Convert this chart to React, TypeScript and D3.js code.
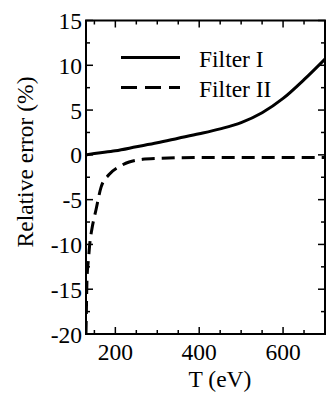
import React from "react";
import * as d3 from "d3";

// Relative error of the two filters versus temperature T (eV)
const filterI_T = [130, 150, 200, 250, 300, 350, 400, 450, 500, 550, 600, 650, 700];
const filterI_err = [0, 0.15, 0.45, 0.9, 1.35, 1.85, 2.35, 2.9, 3.6, 4.7, 6.3, 8.4, 10.7];

const filterII_T = [130, 131, 132.4, 136, 139.5, 144, 154, 166, 185, 210, 233, 265, 300, 400, 500, 600, 700];
const filterII_err = [-20, -17.2, -13.9, -11.6, -9.7, -8.3, -6.1, -3.6, -2.2, -1.3, -0.8, -0.5, -0.4, -0.3, -0.3, -0.3, -0.3];

const xMajorTicks = [200, 400, 600];
const xMinorTicks = [150, 250, 300, 350, 450, 500, 550, 650];
const yMajorTicks = [15, 10, 5, 0, -5, -10, -15, -20];
const yMinorTicks = [12.5, 7.5, 2.5, -2.5, -7.5, -12.5, -17.5];

const legendLabels = ["Filter I", "Filter II"];

const W = 326;
const H = 393;
const plot = { left: 86, right: 325, top: 20.5, bottom: 334 };
const SERIF = '"Liberation Serif", "Times New Roman", Times, Tinos, "DejaVu Serif", "Noto Serif", serif';

export default function App() {
  const x = d3.scaleLinear().domain([130, 700]).range([plot.left, plot.right]);
  const y = d3.scaleLinear().domain([-20, 15]).range([plot.bottom, plot.top]);

  const line = d3
    .line<[number, number]>()
    .x((d) => x(d[0]))
    .y((d) => y(d[1]))
    .curve(d3.curveMonotoneX);

  const s1 = filterI_T.map((t, i) => [t, filterI_err[i]] as [number, number]);
  const s2 = filterII_T.map((t, i) => [t, filterII_err[i]] as [number, number]);

  const major = 7;
  const minor = 4;

  return (
    <svg
      width={W}
      height={H}
      style={{ position: "absolute", left: 0, top: 0, background: "#fff" }}
    >
      <defs>
        <clipPath id="plotClip">
          <rect x={plot.left} y={plot.top} width={plot.right - plot.left} height={plot.bottom - plot.top} />
        </clipPath>
      </defs>

      {/* curves */}
      <g clipPath="url(#plotClip)" fill="none" stroke="#000" strokeWidth={3}>
        <path d={line(s1) ?? ""} />
        <path d={line(s2) ?? ""} strokeDasharray="13,7" />
      </g>

      {/* frame */}
      <rect
        x={plot.left}
        y={plot.top}
        width={plot.right - plot.left}
        height={plot.bottom - plot.top}
        fill="none"
        stroke="#000"
        strokeWidth={2}
      />

      {/* ticks on all four sides, pointing inward */}
      <g stroke="#000" strokeWidth={1.5}>
        {xMajorTicks.map((t) => (
          <g key={"xm" + t}>
            <line x1={x(t)} x2={x(t)} y1={plot.bottom} y2={plot.bottom - major} />
            <line x1={x(t)} x2={x(t)} y1={plot.top} y2={plot.top + major} />
          </g>
        ))}
        {xMinorTicks.map((t) => (
          <g key={"xn" + t}>
            <line x1={x(t)} x2={x(t)} y1={plot.bottom} y2={plot.bottom - minor} />
            <line x1={x(t)} x2={x(t)} y1={plot.top} y2={plot.top + minor} />
          </g>
        ))}
        {yMajorTicks.map((v) => (
          <g key={"ym" + v}>
            <line x1={plot.left} x2={plot.left + major} y1={y(v)} y2={y(v)} />
            <line x1={plot.right} x2={plot.right - major} y1={y(v)} y2={y(v)} />
          </g>
        ))}
        {yMinorTicks.map((v) => (
          <g key={"yn" + v}>
            <line x1={plot.left} x2={plot.left + minor} y1={y(v)} y2={y(v)} />
            <line x1={plot.right} x2={plot.right - minor} y1={y(v)} y2={y(v)} />
          </g>
        ))}
      </g>

      <g fill="#000" fontFamily={SERIF} fontSize={23.5}>
        {/* tick labels */}
        {xMajorTicks.map((t) => (
          <text key={"xl" + t} x={x(t)} y={360} textAnchor="middle">
            {t}
          </text>
        ))}
        {yMajorTicks.map((v) => (
          <text key={"yl" + v} x={82} y={y(v) + 8.5} textAnchor="end">
            {v}
          </text>
        ))}

        {/* axis titles */}
        <text x={220} y={387} textAnchor="middle">
          T (eV)
        </text>
        <text transform="translate(33, 162) rotate(-90)" textAnchor="middle">
          Relative error (%)
        </text>

        {/* legend labels */}
        <text x={199} y={67}>{legendLabels[0]}</text>
        <text x={199} y={97}>{legendLabels[1]}</text>
      </g>

      {/* legend samples */}
      <g stroke="#000" strokeWidth={3}>
        <line x1={121} x2={180} y1={57.5} y2={57.5} />
        <line x1={121} x2={180} y1={87.5} y2={87.5} strokeDasharray="16,8" />
      </g>
    </svg>
  );
}
